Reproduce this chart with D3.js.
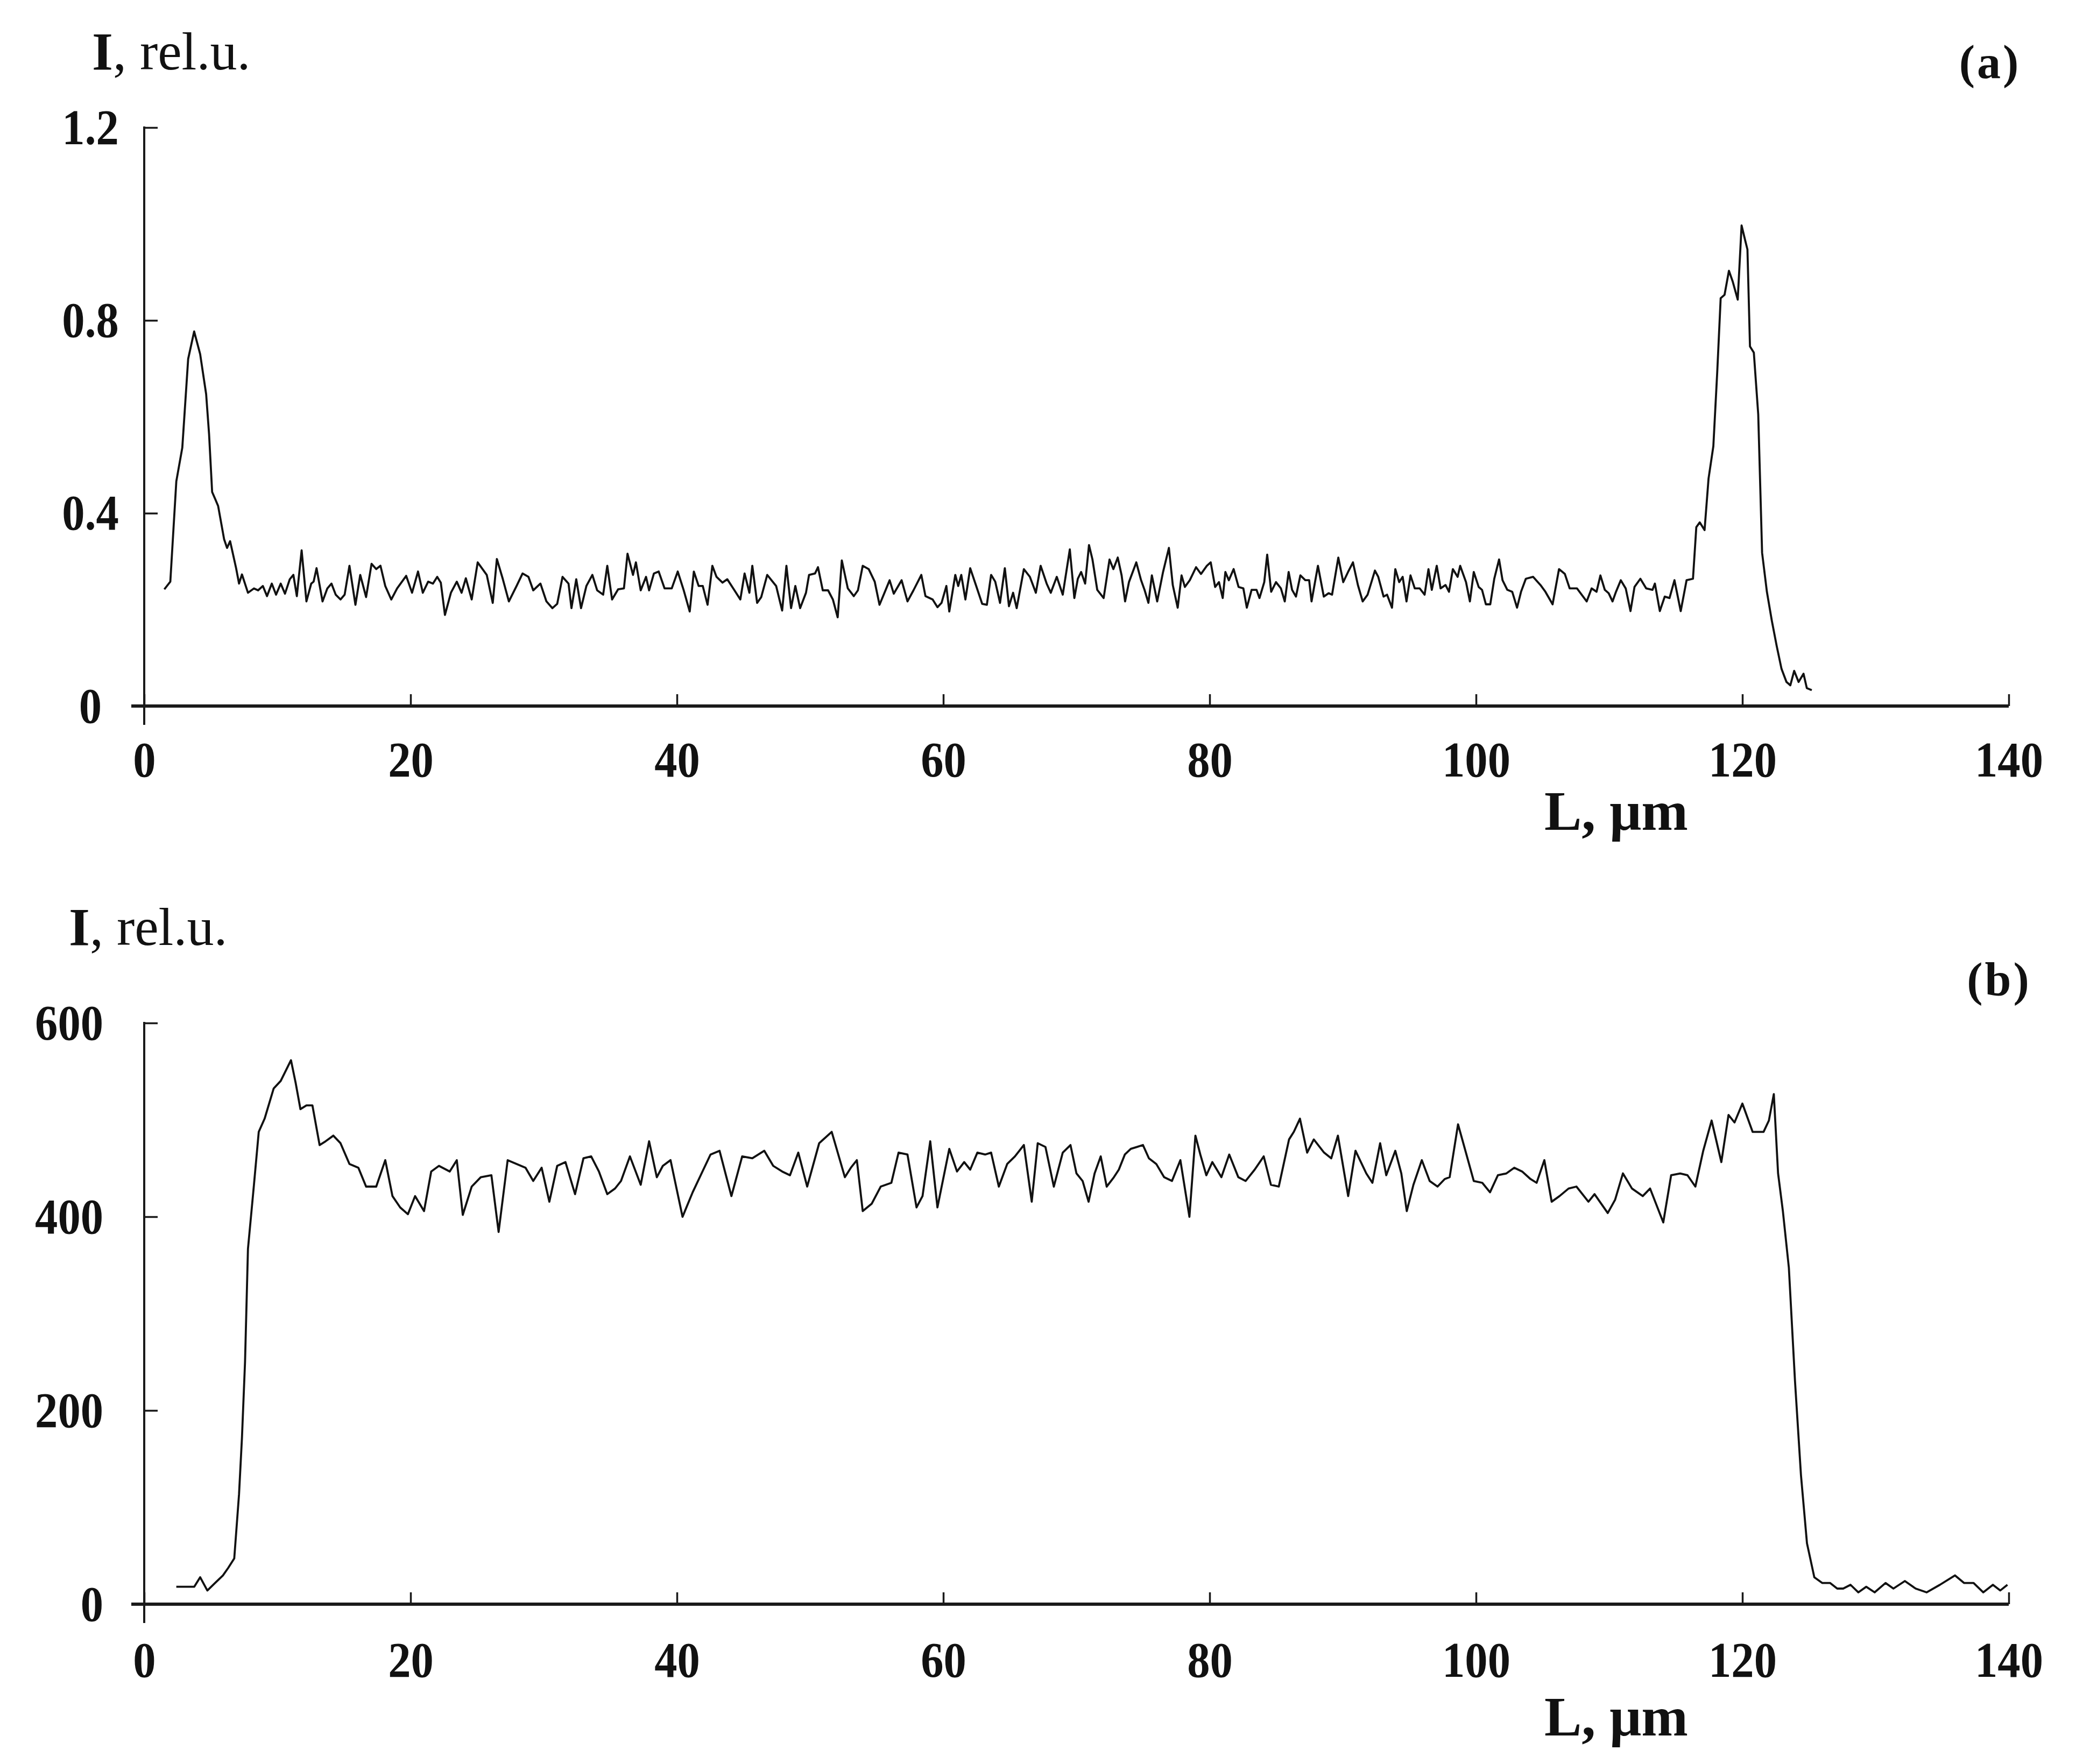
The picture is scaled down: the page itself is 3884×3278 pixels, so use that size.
<!DOCTYPE html>
<html>
<head>
<meta charset="utf-8">
<script src="https://cdn.jsdelivr.net/npm/d3@7"></script>
<style>
  html, body { margin: 0; padding: 0; background: #fff; }
  svg { display: block; }
  text { font-family: "Liberation Serif", "Times New Roman", serif; fill: #111; }
</style>
</head>
<body>
<svg id="chart" width="3884" height="3278"></svg>
<script>
// ---------------- DATA ----------------
const xTicks = [0, 20, 40, 60, 80, 100, 120, 140];
const yTicksA = [0, 0.4, 0.8, 1.2];
const yTickLabelsA = ["0", "0.4", "0.8", "1.2"];
const yTicksB = [0, 200, 400, 600];
const panelLabels = ["(a)", "(b)"];
const yTitle = ["I", ", rel.u."];
const xTitle = "L, \u03bcm";

// Panel (a): [L (µm), I (rel.u.)]
const seriesA = [
[1.51,0.242],[1.96,0.258],[2.41,0.466],[2.86,0.536],[3.30,0.720],[3.75,0.777],[4.20,0.730],[4.65,0.647],[4.87,0.564],[5.10,0.444],[5.32,0.430],[5.55,0.415],[6.00,0.346],[6.22,0.328],[6.45,0.342],[6.90,0.286],[7.12,0.254],[7.34,0.273],
[7.79,0.235],[8.24,0.244],[8.55,0.240],[8.91,0.249],[9.22,0.228],[9.58,0.254],[9.90,0.231],[10.25,0.254],[10.57,0.233],[10.93,0.263],[11.20,0.272],[11.46,0.228],[11.82,0.323],[12.18,0.217],[12.54,0.254],[12.72,0.258],[12.94,0.286],[13.39,0.217],[13.75,0.244],[14.06,0.254],[14.38,0.231],[14.74,0.221],[15.05,0.231],[15.41,0.291],[15.86,0.210],[16.22,0.272],[16.66,0.226],[17.07,0.295],[17.42,0.284],[17.74,0.291],[18.10,0.249],[18.55,0.221],[18.99,0.244],[19.67,0.270],[20.11,0.235],[20.56,0.279],[20.92,0.235],[21.32,0.258],[21.68,0.254],[22.00,0.268],[22.27,0.256],[22.58,0.189],[23.03,0.235],[23.47,0.258],[23.83,0.235],[24.15,0.265],[24.59,0.221],[25.04,0.298],[25.72,0.272],[26.17,0.214],[26.48,0.305],[26.93,0.263],[27.38,0.217],[27.96,0.249],[28.41,0.275],[28.85,0.268],[29.21,0.240],[29.75,0.254],[30.20,0.217],[30.65,0.203],[31.01,0.212],[31.41,0.268],[31.86,0.254],[32.08,0.203],[32.44,0.263],[32.80,0.203],[33.20,0.249],[33.65,0.272],[34.01,0.240],[34.46,0.231],[34.77,0.291],[35.13,0.221],[35.58,0.242],[36.02,0.244],[36.29,0.316],[36.70,0.272],[36.92,0.298],[37.28,0.240],[37.68,0.268],[37.91,0.240],[38.27,0.275],[38.63,0.279],[39.07,0.244],[39.61,0.244],[40.06,0.279],[40.51,0.240],[40.96,0.196],[41.27,0.279],[41.63,0.249],[41.94,0.249],[42.30,0.210],[42.66,0.291],[42.97,0.268],[43.42,0.256],[43.78,0.263],[44.32,0.240],[44.76,0.221],[45.08,0.275],[45.44,0.235],[45.66,0.291],[46.02,0.214],[46.33,0.226],[46.78,0.272],[47.45,0.249],[47.90,0.198],[48.22,0.291],[48.57,0.203],[48.89,0.249],[49.25,0.203],[49.69,0.235],[49.92,0.272],[50.37,0.275],[50.59,0.288],[50.95,0.240],[51.35,0.240],[51.71,0.221],[52.07,0.184],[52.38,0.302],[52.83,0.244],[53.28,0.228],[53.59,0.240],[53.95,0.291],[54.40,0.284],[54.85,0.258],[55.21,0.210],[55.66,0.240],[55.97,0.261],[56.28,0.233],[56.87,0.261],[57.31,0.217],[57.76,0.240],[58.35,0.272],[58.66,0.228],[59.20,0.221],[59.56,0.205],[59.87,0.214],[60.23,0.249],[60.45,0.196],[60.90,0.272],[61.12,0.249],[61.35,0.272],[61.66,0.221],[62.02,0.286],[62.47,0.249],[62.92,0.212],[63.27,0.210],[63.59,0.272],[63.90,0.258],[64.26,0.214],[64.62,0.286],[64.93,0.207],[65.24,0.235],[65.51,0.203],[66.05,0.284],[66.50,0.268],[66.95,0.235],[67.31,0.291],[67.76,0.254],[68.07,0.235],[68.52,0.268],[68.97,0.231],[69.50,0.325],
[69.84,0.224],[70.10,0.264],[70.35,0.278],[70.65,0.254],[70.94,0.334],[71.20,0.304],[71.56,0.241],[72.04,0.224],[72.48,0.304],[72.77,0.284],[73.10,0.308],[73.39,0.271],[73.65,0.217],[73.94,0.257],[74.49,0.298],[74.85,0.261],[75.11,0.241],[75.40,0.214],[75.66,0.271],[76.06,0.217],[76.50,0.278],[76.94,0.328],[77.23,0.251],[77.60,0.204],[77.89,0.271],[78.14,0.247],[78.51,0.261],[78.98,0.288],[79.35,0.274],[79.79,0.291],[80.08,0.298],[80.41,0.247],[80.70,0.257],[80.98,0.224],[81.18,0.278],[81.44,0.261],[81.80,0.284],[82.17,0.247],[82.53,0.244],[82.79,0.204],[83.15,0.241],[83.52,0.241],[83.74,0.224],[84.10,0.257],[84.32,0.314],[84.62,0.237],[84.98,0.257],[85.35,0.244],[85.64,0.217],[85.93,0.278],[86.19,0.241],[86.48,0.227],[86.81,0.271],[87.18,0.261],[87.47,0.261],[87.65,0.217],[88.13,0.291],[88.57,0.227],[88.93,0.234],[89.19,0.231],[89.66,0.308],[90.03,0.257],[90.39,0.278],[90.76,0.298],[91.13,0.251],[91.49,0.217],[91.86,0.231],[92.41,0.281],[92.66,0.268],[93.06,0.227],[93.32,0.231],[93.69,0.204],[93.94,0.284],[94.23,0.257],[94.49,0.268],[94.78,0.217],[95.08,0.271],[95.40,0.244],[95.77,0.244],[96.14,0.231],[96.43,0.284],[96.68,0.241],[97.05,0.291],[97.34,0.244],[97.71,0.251],[97.97,0.237],[98.26,0.284],[98.62,0.268],[98.81,0.291],[99.25,0.257],[99.54,0.217],[99.83,0.278],[100.20,0.247],[100.45,0.241],[100.74,0.211],[101.07,0.211],[101.37,0.264],[101.73,0.304],[101.99,0.261],[102.35,0.241],[102.72,0.237],[103.08,0.204],[103.38,0.237],[103.74,0.264],[104.29,0.268],[104.84,0.251],[105.21,0.237],[105.75,0.211],[106.23,0.284],[106.67,0.274],[107.03,0.244],[107.58,0.244],[108.31,0.217],[108.68,0.244],[109.05,0.237],[109.34,0.271],[109.67,0.241],[109.96,0.234],[110.25,0.217],[110.51,0.237],[110.87,0.261],[111.24,0.244],[111.60,0.197],[111.90,0.247],[112.34,0.264],[112.78,0.244],[113.25,0.241],[113.43,0.254],[113.80,0.197],[114.17,0.227],[114.53,0.224],[114.90,0.261],[115.37,0.197],[115.81,0.261],[116.29,0.264],
[116.54,0.371],[116.80,0.381],[117.16,0.365],[117.46,0.472],[117.82,0.539],[118.11,0.692],[118.37,0.846],[118.66,0.853],[118.99,0.903],[119.28,0.880],[119.65,0.843],[119.94,0.997],[120.20,0.967],[120.38,0.947],[120.57,0.746],[120.86,0.733],[121.19,0.605],[121.48,0.318],[121.84,0.237],[122.21,0.177],[122.58,0.124],[122.94,0.077],[123.31,0.050],[123.60,0.043],[123.89,0.073],[124.22,0.050],[124.59,0.067],[124.84,0.037],[125.21,0.033]
];

// Panel (b): [L (µm), I (rel.u.)]
const seriesB = [
[2.41,18.0],[3.76,18.0],[4.20,27.8],[4.74,14.1],[5.32,21.9],[5.91,29.7],[6.31,37.5],[6.76,47.2],[7.12,113.5],[7.34,172.0],[7.57,249.9],[7.79,366.8],[8.24,433.0],[8.60,487.6],[9.04,501.2],[9.72,532.4],[10.25,540.2],[11.02,561.6],[11.37,538.3],[11.73,511.0],[12.18,514.9],[12.63,514.9],[13.17,474.0],[13.62,477.9],[14.20,483.7],[14.74,475.9],[15.41,454.5],[16.08,450.6],[16.66,431.1],[17.42,431.1],[18.10,458.4],[18.64,421.3],[19.22,409.6],[19.80,402.6],[20.34,421.3],[21.01,405.8],[21.55,446.7],[22.13,452.5],[22.94,446.7],[23.47,458.4],[23.92,401.9],[24.59,431.1],[25.27,440.8],[26.07,442.8],[26.61,384.3],[27.29,458.4],[27.96,454.5],[28.63,450.6],[29.21,436.9],[29.84,450.6],[30.42,415.5],[31.01,452.5],[31.63,456.4],[32.35,423.3],[32.98,460.3],[33.56,462.3],[34.14,446.7],[34.77,423.3],[35.35,429.1],[35.80,436.9],[36.47,462.3],[37.28,433.0],[37.91,477.9],[38.49,440.8],[38.94,452.5],[39.52,458.4],[40.42,399.9],[41.18,425.2],[41.85,444.7],[42.52,464.2],[43.20,468.1],[44.09,421.3],[44.90,462.3],[45.66,460.3],[46.56,468.1],[47.23,452.5],[47.90,446.7],[48.49,442.8],[49.11,466.2],[49.78,431.1],[50.68,475.9],[51.62,487.6],[52.61,440.8],[53.06,450.6],[53.51,458.4],[53.95,405.8],[54.63,413.5],[55.30,431.1],[56.10,435.0],[56.64,466.2],[57.31,464.2],[57.99,409.6],[58.44,421.3],[59.02,477.9],[59.56,409.6],[60.45,470.1],[61.03,446.7],[61.57,456.4],[62.02,448.6],[62.56,466.2],[63.14,464.2],[63.59,466.2],[64.17,431.1],[64.80,454.5],[65.38,462.3],[66.05,474.0],[66.64,415.5],[67.09,475.9],[67.67,472.0],[68.30,431.1],[68.97,466.2],[69.55,474.0],
[70.00,444.7],[70.46,436.9],[70.91,415.5],[71.36,444.7],[71.82,462.3],[72.27,431.1],[72.81,440.8],[73.18,448.6],[73.63,464.2],[74.08,470.1],[74.54,472.0],[74.99,474.0],[75.44,460.3],[75.99,454.5],[76.58,440.8],[77.17,436.9],[77.80,458.4],[78.48,399.9],[78.93,483.7],[79.30,464.2],[79.75,442.8],[80.20,456.4],[80.88,440.8],[81.47,464.2],[82.15,440.8],[82.70,436.9],[83.38,448.6],[84.06,462.3],[84.60,433.0],[85.19,431.1],[85.96,479.8],[86.32,487.6],[86.78,501.2],[87.32,466.2],[87.82,479.8],[88.59,466.2],[89.13,460.3],[89.63,483.7],[90.40,421.3],[90.95,468.1],[91.76,444.7],[92.22,435.0],[92.80,475.9],[93.26,442.8],[93.94,468.1],[94.39,444.7],[94.80,405.8],[95.30,433.0],[95.93,458.4],[96.52,436.9],[97.11,431.1],[97.65,438.9],[98.02,440.8],[98.65,495.4],[99.24,466.2],[99.83,436.9],[100.47,435.0],[101.05,425.2],[101.64,442.8],[102.28,444.7],[102.87,450.6],[103.46,446.7],[104.09,438.9],[104.55,435.0],[105.13,458.4],[105.68,415.5],[106.27,421.3],[106.95,429.1],[107.54,431.1],[108.44,415.5],[108.90,423.3],[109.89,403.8],[110.44,417.4],[111.03,444.7],[111.71,429.1],[112.52,421.3],[113.07,429.1],[114.06,394.1],[114.65,442.8],[115.33,444.7],[115.88,442.8],[116.47,431.1],[117.06,468.1],[117.69,499.3],[118.42,456.4],[118.96,505.1],[119.41,497.3],[120.00,516.8],[120.77,487.6],[121.59,487.6],[121.99,499.3],[122.36,526.6],[122.68,444.7],[123.04,405.8],[123.49,347.3],[123.95,230.4],[124.40,133.0],[124.85,62.8],[125.40,27.8],[125.99,21.9],[126.58,21.9],[127.12,16.1],[127.57,16.1],[128.12,20.0],[128.71,12.2],[129.30,18.0],[129.93,12.2],[130.75,21.9],[131.34,16.1],[132.20,23.9],[133.01,16.1],[133.83,12.2],[134.83,20.0],[135.96,29.7],[136.64,21.9],[137.36,21.9],[138.09,12.2],[138.81,20.0],[139.36,14.1],[139.90,20.0]
];

// ---------------- DRAW ----------------
const svg = d3.select("#chart");
const INK = "#1a1a1a";
const TICK_FS = 94, TICK_SX = 0.9;

const x = d3.scaleLinear().domain([0, 140]).range([268, 3733]);

const panels = [
  { y: d3.scaleLinear().domain([0, 1.2]).range([1312, 237]), ticks: yTicksA,
    labels: yTickLabelsA, labelAnchor: "middle", labelX: -100,
    data: seriesA, titleX: 171, titleY: 129, xtitleY: 1542, xPad: 64,
    tag: panelLabels[0], tagX: 3698, tagY: 145 },
  { y: d3.scaleLinear().domain([0, 600]).range([2981, 1901]), ticks: yTicksB,
    labels: yTicksB.map(String), labelAnchor: "end", labelX: -76,
    data: seriesB, titleX: 128, titleY: 1756, xtitleY: 3225, xPad: 68,
    tag: panelLabels[1], tagX: 3715, tagY: 1850 }
];

panels.forEach(p => {
  const g = svg.append("g");
  const y0 = p.y(0);
  const yTop = p.y(p.y.domain()[1]);

  // X axis ticks + labels
  const xa = g.append("g").attr("transform", `translate(0,${y0})`)
    .call(d3.axisBottom(x).tickValues(xTicks).tickSizeInner(-22).tickSizeOuter(0).tickPadding(p.xPad).tickFormat(d3.format("d")));
  xa.select(".domain").remove();
  xa.selectAll(".tick line").attr("stroke", INK).attr("stroke-width", 3.5);
  xa.selectAll(".tick text").attr("font-size", TICK_FS).attr("font-weight", "bold")
    .attr("font-family", "'Liberation Serif', serif").attr("fill", "#111")
    .attr("transform", `scale(${TICK_SX},1)`);

  // Y axis ticks + labels
  const ya = g.append("g").attr("transform", `translate(${x(0)},0)`)
    .call(d3.axisLeft(p.y).tickValues(p.ticks).tickSizeInner(-25).tickSizeOuter(0)
      .tickFormat((d, i) => p.labels[i]));
  ya.select(".domain").remove();
  ya.selectAll(".tick line").attr("stroke", INK).attr("stroke-width", 3.5);
  ya.selectAll(".tick text").attr("font-size", TICK_FS).attr("font-weight", "bold")
    .attr("font-family", "'Liberation Serif', serif").attr("fill", "#111")
    .attr("x", 0).attr("text-anchor", p.labelAnchor)
    .attr("transform", `translate(${p.labelX},0) scale(${TICK_SX},1)`);

  // Axis lines
  g.append("line").attr("x1", x(0) - 24).attr("x2", x(140)).attr("y1", y0).attr("y2", y0)
    .attr("stroke", INK).attr("stroke-width", 6);
  g.append("line").attr("x1", x(0)).attr("x2", x(0)).attr("y1", yTop - 2).attr("y2", y0 + 35)
    .attr("stroke", INK).attr("stroke-width", 4);

  // Data line
  const line = d3.line().x(d => x(d[0])).y(d => p.y(d[1]));
  g.append("path").datum(p.data).attr("d", line)
    .attr("fill", "none").attr("stroke", "#111").attr("stroke-width", 3.8)
    .attr("stroke-linejoin", "round");

  // Y title
  const t = g.append("text").attr("x", p.titleX).attr("y", p.titleY).attr("font-size", 100);
  t.append("tspan").attr("font-weight", "bold").text(yTitle[0]);
  t.append("tspan").text(yTitle[1]);

  // X title
  g.append("text").attr("x", 2870).attr("y", p.xtitleY).attr("font-size", 104)
    .attr("font-weight", "bold").text(xTitle);

  // Panel tag
  g.append("text").attr("x", p.tagX).attr("y", p.tagY).attr("font-size", 88)
    .attr("font-weight", "bold").attr("text-anchor", "middle").attr("letter-spacing", 4).text(p.tag);
});
</script>
</body>
</html>
